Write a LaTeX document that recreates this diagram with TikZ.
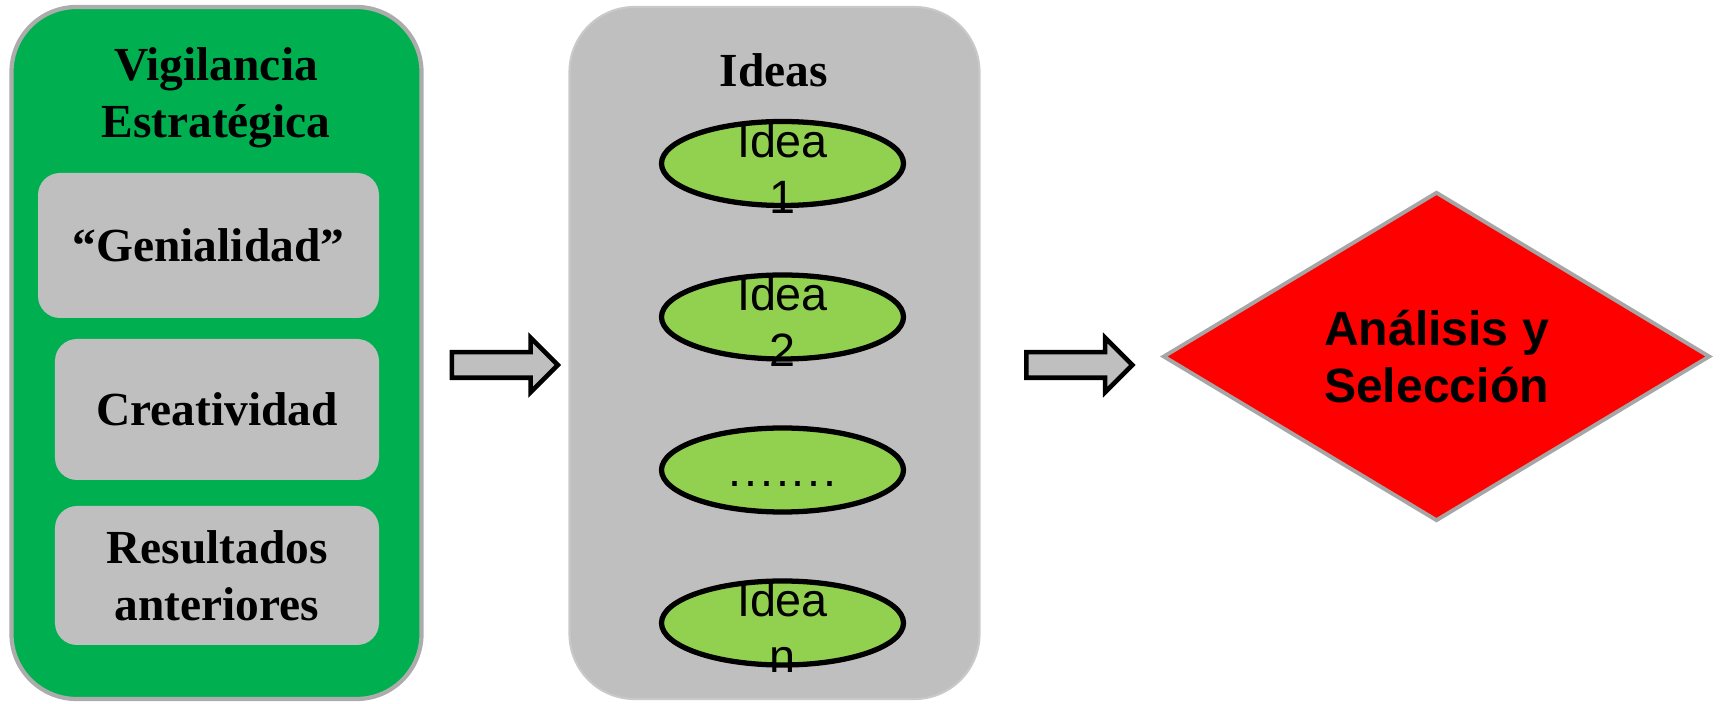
\documentclass[tikz,border=0pt]{standalone}
\usepackage{fontspec}
\setmainfont{Liberation Serif}
\setsansfont{Liberation Sans}
\usetikzlibrary{shapes.geometric,shapes.arrows}
\definecolor{verde}{HTML}{00B050}
\definecolor{gris}{HTML}{BFBFBF}
\definecolor{verdeclaro}{HTML}{92D050}
\definecolor{borde}{HTML}{A6A6A6}
\pgfdeclarelayer{bg}
\pgfsetlayers{bg,main}
\tikzset{
    every node/.style={inner sep=0mm, align=center},
    panel/.style={rectangle, rounded corners=6.5mm, minimum width=4.1cm, minimum height=6.92cm},
    titulo/.style={font=\fontsize{13.5}{16.2}\selectfont\bfseries},
    item/.style={rectangle, rounded corners=2.2mm, fill=gris, titulo},
    idea/.style={ellipse, draw, line width=1.5pt, fill=verdeclaro, minimum width=2.42cm, minimum height=0.84cm},
    flecha/.style={single arrow, draw, line width=1.3pt, fill=gris, inner sep=1.05mm,
        single arrow head extend=1.45mm, single arrow head indent=0mm, minimum height=1.06cm},
    decision/.style={diamond, aspect=1.7, draw=borde, line width=1.1pt, fill=red,
        minimum width=5.47cm, minimum height=3.29cm, font=\sffamily\bfseries\fontsize{13.7}{16.2}\selectfont}
}
\tikzset{every label/.style={font=\sffamily\fontsize{13.3}{15.9}\selectfont, align=center}}

\begin{document}
\begin{tikzpicture}
        \useasboundingbox (0,0) rectangle (17.22cm, 7.04cm);
        \begin{pgfonlayer}{bg}
                \node (vig) [panel, fill=verde, draw=gris!90!black, line width=1.2pt] at (2.165cm, 3.51cm) {};
                \node (ideas) [panel, fill=gris, draw=gris!85!white, line width=0.6pt] at (7.745cm, 3.51cm) {};
        \end{pgfonlayer}
        \node (t0) [titulo] at (2.16cm, 6.06cm) {Vigilancia\\Estratégica};
        \node (gen) [item, minimum width=3.41cm, minimum height=1.45cm] at (2.085cm, 4.585cm) {“Genialidad”};
        \node (cre) [item, minimum width=3.24cm, minimum height=1.41cm] at (2.17cm, 2.945cm) {Creatividad};
        \node (res) [item, minimum width=3.24cm, minimum height=1.39cm] at (2.17cm, 1.285cm) {Resultados\\anteriores};
        \node (t1) [titulo] at (7.74cm, 6.34cm) {Ideas};
        \node (i1) [idea, label={[yshift=-0.5mm]center:Idea\\1}] at (7.825cm, 5.405cm) {};
        \node (i2) [idea, label={[yshift=-0.5mm]center:Idea\\2}] at (7.825cm, 3.87cm) {};
        \node (i3) [idea, label={[yshift=-1.4mm]center:.\kern.8pt.\kern.8pt.\kern.8pt.\kern.8pt.\kern.8pt.\kern.8pt.}] at (7.825cm, 2.34cm) {};
        \node (i4) [idea, label={[yshift=-0.5mm]center:Idea\\n}] at (7.825cm, 0.81cm) {};
        \node (f1) [flecha] at (4.985cm, 3.39cm) {};
        \node (f2) [flecha] at (10.73cm, 3.39cm) {};
        \node (sel) [decision] at (14.365cm, 3.475cm) {Análisis y\\Selección};
\end{tikzpicture}
\end{document}
